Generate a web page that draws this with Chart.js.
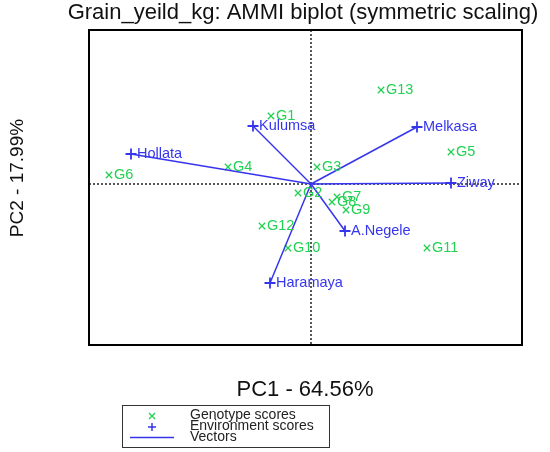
<!DOCTYPE html>
<html>
<head>
<meta charset="utf-8">
<script src="https://cdn.jsdelivr.net/npm/chart.js@4.4.1/dist/chart.umd.min.js"></script>
<style>
  html, body { margin: 0; padding: 0; background: #fff; }
  #wrap { width: 550px; height: 452px; position: relative; }
</style>
</head>
<body>
<div id="wrap"><canvas id="biplot"></canvas></div>
<script>
// genotype scores (PC1, PC2)
const genotypes = ['G1', 'G2', 'G3', 'G4', 'G5', 'G6', 'G7', 'G8', 'G9', 'G10', 'G11', 'G12', 'G13'];
const genoPC1 = [-0.40, -0.13, 0.06, -0.83, 1.40, -2.02, 0.26, 0.21, 0.35, -0.23, 1.16, -0.49, 0.70];
const genoPC2 = [0.68, -0.09, 0.17, 0.17, 0.32, 0.09, -0.13, -0.18, -0.26, -0.64, -0.64, -0.42, 0.94];

// environment scores (PC1, PC2)
const environments = ['Kulumsa', 'Melkasa', 'Hollata', 'Ziway', 'A.Negele', 'Haramaya'];
const envPC1 = [-0.58, 1.06, -1.80, 1.40, 0.34, -0.41];
const envPC2 = [0.58, 0.57, 0.30, 0.01, -0.47, -0.99];

const xRange = [-2.22, 2.11];
const yRange = [-1.61, 1.54];

const GREEN = '#22d152';
const BLUE = '#3535ee';

const genoPoints = genotypes.map((g, i) => ({ x: genoPC1[i], y: genoPC2[i], label: g }));
const envPoints = environments.map((e, i) => ({ x: envPC1[i], y: envPC2[i], label: e }));

// one line dataset per vector, from origin to the environment score
const vectorSets = envPoints.map(p => ({
    type: 'line',
    data: [{ x: 0, y: 0 }, { x: p.x, y: p.y }],
    borderColor: BLUE,
    borderWidth: 1.5,
    pointRadius: 0,
    fill: false,
    tension: 0
}));

const biplotDecor = {
    id: 'biplotDecor',
    beforeDatasetsDraw(chart) {
        const { ctx, chartArea: a, scales: { x, y } } = chart;
        const x0 = x.getPixelForValue(0);
        const y0 = y.getPixelForValue(0);
        ctx.save();
        ctx.strokeStyle = '#222';
        ctx.lineWidth = 1.5;
        ctx.setLineDash([2, 2]);
        ctx.beginPath();
        ctx.moveTo(x0, a.top);
        ctx.lineTo(x0, a.bottom);
        ctx.moveTo(a.left, y0);
        ctx.lineTo(a.right, y0);
        ctx.stroke();
        ctx.restore();
    },
    afterDatasetsDraw(chart) {
        const { ctx, chartArea: a, scales: { x, y } } = chart;
        ctx.save();
        // point labels
        ctx.font = '14.5px "Liberation Sans", Arial, sans-serif';
        ctx.textBaseline = 'middle';
        ctx.textAlign = 'left';
        ctx.fillStyle = GREEN;
        genoPoints.forEach(p => {
            ctx.fillText(p.label, x.getPixelForValue(p.x) + 5, y.getPixelForValue(p.y));
        });
        ctx.fillStyle = BLUE;
        envPoints.forEach(p => {
            ctx.fillText(p.label, x.getPixelForValue(p.x) + 6, y.getPixelForValue(p.y));
        });

        // frame
        ctx.strokeStyle = '#000';
        ctx.lineWidth = 2;
        ctx.strokeRect(a.left, a.top, a.right - a.left, a.bottom - a.top);

        // title and axis labels
        ctx.fillStyle = '#111';
        ctx.textAlign = 'center';
        ctx.font = '22px "Liberation Sans", Arial, sans-serif';
        ctx.fillText('Grain_yeild_kg: AMMI biplot (symmetric scaling)', 303, 13);
        ctx.fillText('PC1 - 64.56%', 305, 390);
        ctx.save();
        ctx.translate(18, 178);
        ctx.rotate(-Math.PI / 2);
        ctx.font = '19px "Liberation Sans", Arial, sans-serif';
        ctx.fillText('PC2 - 17.99%', 0, 0);
        ctx.restore();

        // legend
        ctx.lineWidth = 1;
        ctx.strokeStyle = '#333';
        ctx.strokeRect(122.5, 405.5, 207, 42);
        ctx.font = '14px "Liberation Sans", Arial, sans-serif';
        ctx.textAlign = 'left';
        ctx.fillStyle = '#222';
        ctx.fillText('Genotype scores', 190, 415);
        ctx.fillText('Environment scores', 190, 426);
        ctx.fillText('Vectors', 190, 437);
        ctx.lineWidth = 1.3;
        ctx.strokeStyle = GREEN;
        ctx.beginPath();
        ctx.moveTo(149, 413); ctx.lineTo(155, 419);
        ctx.moveTo(155, 413); ctx.lineTo(149, 419);
        ctx.stroke();
        ctx.strokeStyle = BLUE;
        ctx.lineWidth = 1.5;
        ctx.beginPath();
        ctx.moveTo(148, 427); ctx.lineTo(156, 427);
        ctx.moveTo(152, 423); ctx.lineTo(152, 431);
        ctx.moveTo(130, 437.5); ctx.lineTo(174, 437.5);
        ctx.stroke();
        ctx.restore();
    }
};

new Chart(document.getElementById('biplot'), {
    type: 'scatter',
    data: {
        datasets: [
            ...vectorSets,
            {
                label: 'Genotype scores',
                data: genoPoints,
                pointStyle: 'crossRot',
                pointRadius: 4.5,
                borderColor: GREEN,
                backgroundColor: GREEN,
                borderWidth: 1.3
            },
            {
                label: 'Environment scores',
                data: envPoints,
                pointStyle: 'cross',
                pointRadius: 5.5,
                borderColor: BLUE,
                backgroundColor: BLUE,
                borderWidth: 1.8
            }
        ]
    },
    options: {
        responsive: true,
        maintainAspectRatio: false,
        animation: false,
        layout: { padding: { left: 81, right: 28, top: 30, bottom: 99 } },
        plugins: {
            legend: { display: false },
            title: { display: false },
            tooltip: { enabled: false }
        },
        scales: {
            x: {
                type: 'linear',
                min: xRange[0],
                max: xRange[1],
                ticks: { display: false },
                grid: { display: false },
                border: { display: false }
            },
            y: {
                type: 'linear',
                min: yRange[0],
                max: yRange[1],
                ticks: { display: false },
                grid: { display: false },
                border: { display: false }
            }
        }
    },
    plugins: [biplotDecor]
});
</script>
</body>
</html>
